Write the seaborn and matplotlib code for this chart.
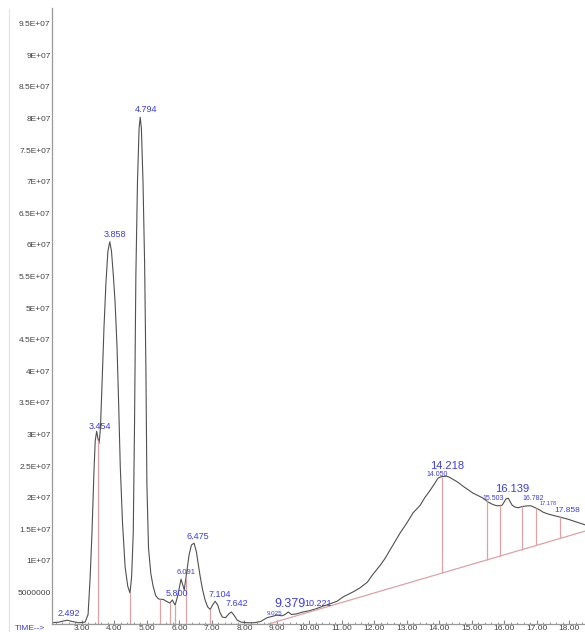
import numpy as np
import pandas as pd
import matplotlib
matplotlib.use("Agg")
import matplotlib.pyplot as plt
import seaborn as sns
from matplotlib.lines import Line2D
from matplotlib.ticker import MultipleLocator

# retention time (min) and abundance (millions)
time = [2.08, 2.3, 2.45, 2.55, 2.7, 2.9, 3.1, 3.19, 3.25, 3.31, 3.37, 3.41, 3.454, 3.5,
        3.53, 3.57, 3.62, 3.68, 3.74, 3.8, 3.858, 3.91, 3.97, 4.02, 4.08, 4.13, 4.18, 4.25,
        4.33, 4.41, 4.48, 4.53, 4.58, 4.62, 4.66, 4.71, 4.76, 4.794, 4.83, 4.88, 4.93, 4.97,
        5.0, 5.05, 5.12, 5.19, 5.27, 5.35, 5.41, 5.5, 5.6, 5.71, 5.78, 5.87, 5.95, 6.05,
        6.15, 6.22, 6.3, 6.37, 6.45, 6.52, 6.58, 6.64, 6.71, 6.79, 6.87, 6.95, 7.02, 7.10,
        7.18, 7.25, 7.32, 7.42, 7.52, 7.60, 7.68, 7.78, 7.9, 8.1, 8.3, 8.5, 8.7, 8.85, 9.0,
        9.16, 9.25, 9.35, 9.45, 9.6, 9.8, 10.0, 10.2, 10.4, 10.64, 10.85, 11.04, 11.2,
        11.35, 11.55, 11.78, 11.96, 12.18, 12.33, 12.48, 12.63, 12.79, 13.0, 13.19, 13.41,
        13.55, 13.72, 13.85, 13.96, 14.05, 14.218, 14.32, 14.42, 14.58, 14.73, 14.9, 15.04,
        15.2, 15.35, 15.5, 15.65, 15.78, 15.93, 16.05, 16.12, 16.24, 16.33, 16.42, 16.55,
        16.7, 16.82, 16.95, 17.07, 17.19, 17.35, 17.5, 17.65, 17.81, 17.95, 18.12, 18.3, 18.48]
abundance = [0.2, 0.3, 0.5, 0.6, 0.4, 0.2, 0.3, 1.5, 7, 14.4, 24, 29, 30.5, 29.2,
             28.6, 31, 38, 47, 54, 59, 60.5, 59, 55, 51, 44, 35, 25, 16,
             9, 6, 4.9, 7.5, 14.4, 32, 55, 70, 78.5, 80.2, 78.5, 70, 57, 40,
             22, 12, 8, 6, 4.5, 4.0, 3.9, 3.9, 3.6, 3.3, 3.8, 3.0, 4.5, 7.1,
             5.4, 8, 11, 12.5, 12.8, 11.5, 9.5, 7.5, 5.5, 3.8, 2.7, 2.3, 3.0, 3.6,
             3.0, 1.8, 1.1, 1.0, 1.6, 1.9, 1.4, 0.6, 0.3, 0.2, 0.2, 0.4, 1.0, 1.2, 1.4,
             1.3, 1.5, 1.9, 1.5, 1.6, 1.9, 2.1, 2.4, 2.8, 3.2, 3.6, 4.3, 4.7,
             5.1, 5.7, 6.6, 7.9, 9.3, 10.4, 11.7, 13.0, 14.4, 16.0, 17.6, 18.8,
             20.0, 21.2, 22.2, 23.1, 23.3, 23.4, 23.2, 22.9, 22.4, 21.8, 21.2, 20.7,
             20.3, 19.9, 19.3, 18.9, 18.7, 18.8, 19.8, 19.9, 18.8, 18.5, 18.4, 18.6,
             18.7, 18.7, 18.4, 18.1, 17.7, 17.4, 17.2, 17.0, 16.8, 16.6, 16.3, 16.0, 15.7]

# integration baselines
base_flat_t = [2.35, 8.74]
base_flat_y = [0.0, 0.0]
base_slope_t = [8.74, 18.48]
base_slope_y = [0.0, 14.7]

# peak split (drop) lines
drop_times = [3.5, 4.48, 5.41, 5.71, 5.87, 6.2, 6.95,
              14.08, 15.47, 15.87, 16.55, 16.98, 17.72]

# peak labels: text, time, abundance (millions), size
peak_labels = ["2.492", "3.454", "3.858", "4.794", "5.800", "6.091", "6.475", "7.104",
               "7.642", "9.025", "9.379", "10.221", "14.050", "14.218", "15.503",
               "16.139", "16.782", "17.178", "17.858"]
label_t = [2.6, 3.56, 4.02, 4.98, 5.93, 6.21, 6.58, 7.25, 7.78, 8.93, 9.4, 10.27,
           13.93, 14.24, 15.65, 16.24, 16.88, 17.35, 17.93]
label_y = [1.7, 31.3, 61.7, 81.5, 4.9, 8.1, 13.9, 4.7, 3.2, 1.7, 3.1, 3.2,
           23.7, 25.0, 19.9, 21.4, 19.9, 19.0, 17.9]
label_size = [6.5, 6.5, 6.5, 6.5, 6.5, 5.5, 6.5, 6.5, 6.5, 4.5, 9, 6.5,
              5, 8, 5, 8, 5, 4, 6]

ytick_vals = [5e6, 1e7, 1.5e7, 2e7, 2.5e7, 3e7, 3.5e7, 4e7, 4.5e7, 5e7,
              5.5e7, 6e7, 6.5e7, 7e7, 7.5e7, 8e7, 8.5e7, 9e7, 9.5e7]
ytick_labels = ["5000000", "1E+07", "1.5E+07", "2E+07", "2.5E+07", "3E+07", "3.5E+07",
                "4E+07", "4.5E+07", "5E+07", "5.5E+07", "6E+07", "6.5E+07", "7E+07",
                "7.5E+07", "8E+07", "8.5E+07", "9E+07", "9.5E+07"]
xtick_vals = list(range(3, 19))

sns.set_style("white")
plt.rcParams['font.family'] = ['Liberation Sans', 'DejaVu Sans']

fig = plt.figure(figsize=(5.85, 6.32), dpi=100)
ax = fig.add_axes([52 / 585, 8 / 632, 1 - 52 / 585, 616 / 632])

df = pd.DataFrame({"time": time, "abund": np.array(abundance) * 1e6})
sns.lineplot(data=df, x="time", y="abund", estimator=None, color="#505050", lw=0.8, ax=ax)

pink = "#dba3a8"
ax.plot(base_flat_t, np.array(base_flat_y) * 1e6, color=pink, lw=0.9)
ax.plot(base_slope_t, np.array(base_slope_y) * 1e6, color=pink, lw=0.9)
drop_top = np.interp(drop_times, time, abundance) * 1e6
drop_bot = np.interp(drop_times, base_flat_t + base_slope_t[1:], base_flat_y + base_slope_y[1:]) * 1e6
ax.vlines(drop_times, drop_bot, drop_top, color=pink, lw=0.9)

for txt, t, y, s in zip(peak_labels, label_t, label_y, label_size):
    ax.text(t, y * 1e6, txt, color="#3b3bf0", fontsize=s, ha="center", va="center")

ax.set_xlim(2.08, 18.48)
ax.set_ylim(0, 97.5e6)
ax.set_yticks(ytick_vals)
ax.set_yticklabels(ytick_labels)
for lbl in ax.get_yticklabels():
    if lbl.get_text() == "2E+07":
        lbl.set_fontsize(3.5)
ax.set_xticks(xtick_vals)
ax.set_xticklabels([f"{v:.2f}" for v in xtick_vals])
ax.xaxis.set_minor_locator(MultipleLocator(0.2))
ax.tick_params(axis="y", length=0, pad=1, labelsize=6, labelcolor="#444444")
ax.tick_params(axis="x", which="major", direction="in", length=3, pad=1,
               labelsize=6, labelcolor="#444444", bottom=True, color="#888888")
ax.tick_params(axis="x", which="minor", direction="in", length=1.5, bottom=True, color="#888888")
ax.set_xlabel("")
ax.set_ylabel("")
sns.despine(ax=ax)
for side in ["left", "bottom"]:
    ax.spines[side].set_color("#999999")
    ax.spines[side].set_linewidth(0.9)

fig.text(15 / 585, 1 - 629 / 632, "TIME-->", color="#3b3bf0", fontsize=6, ha="left", va="center")
fig.add_artist(Line2D([9 / 585, 9 / 585], [0, 0.985], color="#d4ecd4", lw=0.8))

fig.savefig("out.png", dpi=100)
